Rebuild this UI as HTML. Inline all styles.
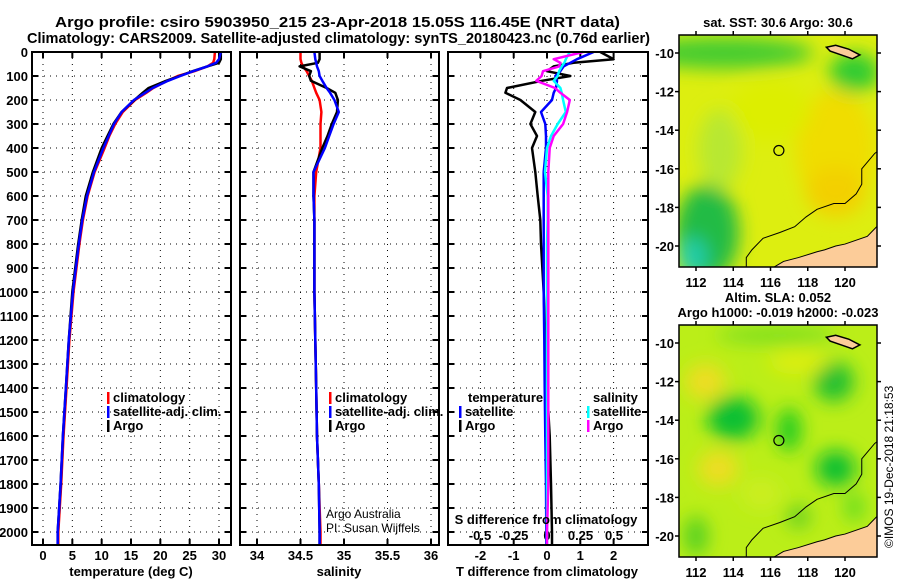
<!DOCTYPE html>
<html><head><meta charset="utf-8"><style>
body{margin:0;background:#fff;}
svg{display:block;font-family:"Liberation Sans",sans-serif;}
.t{font-weight:bold;font-size:13px;fill:#000;}
.h{font-weight:bold;font-size:15px;fill:#000;}
</style></head><body>
<svg id="chart" width="900" height="580" viewBox="0 0 900 580">
<defs>
<filter id="bl" x="-50%" y="-50%" width="200%" height="200%"><feGaussianBlur stdDeviation="9"/></filter>
<clipPath id="c1"><rect x="679" y="35" width="198" height="232"/></clipPath>
<clipPath id="c2"><rect x="679" y="325" width="198" height="232"/></clipPath>
</defs>
<text class="h" x="55" y="27" textLength="565" lengthAdjust="spacingAndGlyphs">Argo profile: csiro 5903950_215 23-Apr-2018 15.05S 116.45E (NRT data)</text>
<text class="h" x="27" y="43" textLength="623" lengthAdjust="spacingAndGlyphs">Climatology: CARS2009. Satellite-adjusted climatology: synTS_20180423.nc (0.76d earlier)</text>
<g id="panels"></g>
<g id="maps"></g>
<text x="893" y="548" font-size="12" transform="rotate(-90 893 548)">©IMOS 19-Dec-2018 21:18:53</text>
</svg>
<script>
// depths (m)
const depths      = [0, 30, 45, 60, 80, 100, 120, 150, 170, 200, 250, 300, 350, 400, 500, 600, 700, 800, 1000, 1200, 1400, 1600, 1800, 2000, 2050];
// temperature (deg C)
const tempArgo    = [30.3, 30.3, 30.0, 28.0, 25.5, 23.3, 21.0, 18.0, 17.0, 15.6, 13.4, 12.0, 11.0, 10.0, 8.5, 7.3, 6.6, 6.0, 5.0, 4.4, 3.9, 3.4, 3.0, 2.5, 2.5];
const tempClim    = [29.3, 29.2, 29.0, 28.0, 25.8, 23.0, 21.2, 18.8, 17.6, 15.7, 13.6, 12.3, 11.3, 10.5, 8.8, 7.6, 6.8, 6.2, 5.2, 4.5, 4.0, 3.5, 3.1, 2.6, 2.6];
const tempSat     = [30.3, 30.0, 29.5, 28.0, 25.6, 23.4, 21.3, 18.7, 17.4, 15.5, 13.4, 12.1, 11.2, 10.3, 8.7, 7.5, 6.7, 6.1, 5.1, 4.4, 3.9, 3.4, 3.0, 2.5, 2.5];
// salinity (PSU)
const salArgo     = [34.72, 34.72, 34.70, 34.49, 34.62, 34.60, 34.62, 34.80, 34.90, 34.93, 34.92, 34.86, 34.81, 34.75, 34.65, 34.65, 34.66, 34.66, 34.66, 34.67, 34.68, 34.69, 34.71, 34.72, 34.72];
const salClim     = [34.50, 34.50, 34.51, 34.53, 34.57, 34.60, 34.63, 34.66, 34.68, 34.72, 34.74, 34.73, 34.73, 34.73, 34.68, 34.66, 34.66, 34.66, 34.66, 34.67, 34.68, 34.69, 34.71, 34.73, 34.73];
const salSat      = [34.66, 34.67, 34.68, 34.69, 34.71, 34.72, 34.75, 34.80, 34.84, 34.89, 34.94, 34.88, 34.83, 34.78, 34.65, 34.65, 34.66, 34.66, 34.66, 34.67, 34.68, 34.69, 34.71, 34.72, 34.72];
// differences from climatology
const tDiffArgo   = [1.6, 2.0, 0.8, 0.2, 0.0, 0.7, -0.15, -1.2, -1.25, -0.8, -0.35, -0.5, -0.3, -0.45, -0.35, -0.28, -0.2, -0.18, -0.1, -0.05, 0.0, 0.08, 0.12, 0.15, 0.15];
const tDiffSat    = [1.4, 0.9, 0.7, 0.5, 0.4, 0.25, 0.3, 0.27, 0.2, 0.15, -0.18, -0.05, -0.03, -0.03, -0.1, -0.1, -0.1, -0.1, -0.1, -0.08, -0.07, -0.05, -0.03, -0.02, -0.02];
const sDiffArgo   = [0.27, 0.05, 0.1, 0.09, -0.03, -0.04, -0.08, 0.06, 0.1, 0.17, 0.15, 0.12, 0.05, 0.02, 0.01, 0.01, 0.01, 0.01, 0.01, 0.01, 0.01, 0.01, 0.01, 0.0, 0.0];
const sDiffSat    = [0.17, 0.14, 0.13, 0.11, 0.09, 0.08, 0.05, 0.1, 0.11, 0.12, 0.14, 0.08, 0.03, 0.0, -0.015, 0.005, 0.005, 0.0, 0.0, 0.0, 0.0, 0.0, 0.0, 0.0, 0.0];
const depthTicks  = [0,100,200,300,400,500,600,700,800,900,1000,1100,1200,1300,1400,1500,1600,1700,1800,1900,2000];
const tempTicks   = [0,5,10,15,20,25,30];
const salTicks    = [34,34.5,35,35.5,36];
const tDiffTicks  = [-2,-1,0,1,2];
const sDiffTicks  = [-0.5,-0.25,0,0.25,0.5];
const lonTicks    = [112,114,116,118,120];
const latTicks    = [-10,-12,-14,-16,-18,-20];
const floatLon = 116.45, floatLat = -15.05;

const NS="http://www.w3.org/2000/svg";
function mk(tag, attrs, parent){const e=document.createElementNS(NS,tag);for(const k in attrs)e.setAttribute(k,attrs[k]);parent.appendChild(e);return e;}
const panels=document.getElementById('panels');
const yTop=52, yBot=545;
const yD=d=>yTop+d*0.24;
function lin(d0,d1,r0,r1){return v=>r0+(v-d0)*(r1-r0)/(d1-d0);}

function panel(name){
  const g=mk('g',{},panels);
  
  
  return g;
}
function frame(g,x0,x1){
  const r=mk('rect',{x:x0,y:yTop,width:x1-x0,height:yBot-yTop,fill:'none',stroke:'#000','stroke-width':2},g);
  
  
}
function hgrid(g,x0,x1){
  depthTicks.forEach(d=>{
    mk('line',{x1:x0,x2:x1,y1:yD(d),y2:yD(d),stroke:'#000','stroke-dasharray':'1 5'},g);
    mk('line',{x1:x0,x2:x0+6,y1:yD(d),y2:yD(d),stroke:'#000','stroke-width':2},g);
    mk('line',{x1:x1-6,x2:x1,y1:yD(d),y2:yD(d),stroke:'#000','stroke-width':2},g);
  });
}
function vgrid(g,vals,sx,lab,y){
  vals.forEach(v=>{
    mk('line',{x1:sx(v),x2:sx(v),y1:yTop,y2:yBot,stroke:'#000','stroke-dasharray':'1 5'},g);
    mk('line',{x1:sx(v),x2:sx(v),y1:yBot-6,y2:yBot,stroke:'#000','stroke-width':2},g);
    mk('line',{x1:sx(v),x2:sx(v),y1:yTop,y2:yTop+6,stroke:'#000','stroke-width':2},g);
    if(lab){const t=mk('text',{x:sx(v),y:y,'text-anchor':'middle',class:'t'},g);t.textContent=v;
      
      }
  });
}
function line(g,xs,sx,color,name,w){
  const p=xs.map((v,i)=>sx(v).toFixed(1)+','+yD(depths[i]).toFixed(1)).join(' ');
  const l=mk('polyline',{points:p,fill:'none',stroke:color,'stroke-width':w||2.5,'stroke-linejoin':'round'},g);
  
  
}
function txt(g,x,y,s,name,extra){const t=mk('text',Object.assign({x:x,y:y,class:'t'},extra||{}),g);t.textContent=s;
  
  return t;}
function legend(g,x,y,items){
  items.forEach((it,i)=>{
    mk('rect',{x:x,y:y+i*14-10,width:2.5,height:12,fill:it[1]},g);
    txt(g,x+6,y+i*14,it[0],'legend-entry');
  });
}

// Panel 1
const g1=panel('temperature-panel');
const sxT=lin(0,30,43,219);
hgrid(g1,32,231);
vgrid(g1,tempTicks,sxT,true,560);
depthTicks.forEach(d=>txt(g1,28,yD(d)+5,String(d),'y-tick-label',{'text-anchor':'end'}));
line(g1,tempClim,sxT,'#f00','temp-climatology-line');
line(g1,tempArgo,sxT,'#000','temp-argo-line');
line(g1,tempSat,sxT,'#00f','temp-satellite-line');
frame(g1,32,231);
legend(g1,107,402,[['climatology','#f00'],['satellite-adj. clim.','#00f'],['Argo','#000']]);
txt(g1,131,576,'temperature (deg C)','x-axis-title',{'text-anchor':'middle'});

// Panel 2
const g2=panel('salinity-panel');
const sxS=lin(34,36,257,431);
hgrid(g2,240,439);
vgrid(g2,salTicks,sxS,true,560);
line(g2,salClim,sxS,'#f00','sal-climatology-line');
line(g2,salArgo,sxS,'#000','sal-argo-line');
line(g2,salSat,sxS,'#00f','sal-satellite-line');
frame(g2,240,439);
legend(g2,329,402,[['climatology','#f00'],['satellite-adj. clim.','#00f'],['Argo','#000']]);
txt(g2,339,576,'salinity','x-axis-title',{'text-anchor':'middle'});
const c1=txt(g2,326,518,'Argo Australia','credit-line',{});c1.setAttribute('class','');c1.setAttribute('font-size','12');
const c2=txt(g2,326,532,'PI: Susan Wijffels','credit-line',{});c2.setAttribute('class','');c2.setAttribute('font-size','12');

// Panel 3
const g3=panel('difference-panel');
const sxD=lin(0,1,547,580.3);
const sxSD=lin(0,0.5,547,614);
hgrid(g3,448,648);
vgrid(g3,tDiffTicks,sxD,true,560);
sDiffTicks.forEach(v=>txt(g3,sxSD(v),540,String(v),'s-tick-label',{'text-anchor':'middle'}));
line(g3,tDiffArgo,sxD,'#000','tdiff-argo-line');
line(g3,tDiffSat,sxD,'#00f','tdiff-satellite-line');
line(g3,sDiffSat,sxSD,'#0ff','sdiff-satellite-line');
line(g3,sDiffArgo,sxSD,'#f0f','sdiff-argo-line');
frame(g3,448,648);
txt(g3,468,402,'temperature','legend-title');
legend(g3,459,416,[['satellite','#00f'],['Argo','#000']]);
txt(g3,593,402,'salinity','legend-title');
legend(g3,587,416,[['satellite','#0ff'],['Argo','#f0f']]);
txt(g3,546,524,'S difference from climatology','s-axis-title',{'text-anchor':'middle'});
txt(g3,547,576,'T difference from climatology','x-axis-title',{'text-anchor':'middle'});

// Maps
const maps=document.getElementById('maps');
const sxL=lin(112,120,696,845);
function mapPanel(y0,name,blobs,base,title1,title2){
  const g=mk('g',{},maps);
  
  
  const syL=lin(-10,-20,y0+18,y0+211);
  const inner=mk('g',{'clip-path':'url(#'+(y0<100?'c1':'c2')+')'},g);
  mk('rect',{x:679,y:y0,width:198,height:232,fill:base},inner);
  const bg=mk('g',{filter:'url(#bl)'},inner);
  blobs.forEach(b=>mk('ellipse',{cx:sxL(b[0]),cy:syL(b[1]),rx:b[2],ry:b[3],fill:b[4]},bg));
  const land=[[121.9,-18.8],[121.2,-19.5],[120,-19.9],[119.5,-20.0],[118.9,-20.2],[118.5,-20.3],[117.5,-20.6],[116.7,-20.8],[116,-21.2],[121.9,-21.2]];
  mk('polygon',{points:land.map(p=>sxL(p[0])+','+syL(p[1])).join(' '),fill:'#fccc99',stroke:'#000','stroke-width':1},inner);
  const isl=[[119,-9.7],[119.5,-9.6],[120.2,-9.8],[120.8,-10.1],[120.4,-10.3],[119.8,-10.1],[119.2,-9.9]];
  mk('polygon',{points:isl.map(p=>sxL(p[0])+','+syL(p[1])).join(' '),fill:'#fccc99',stroke:'#000','stroke-width':1.5},inner);
  const iso=[[121.9,-15.0],[121.6,-15.2],[120.9,-16.0],[120.9,-16.8],[120.6,-17.3],[120,-17.8],[119.4,-17.8],[118.5,-18.1],[117.9,-18.5],[117.3,-19.0],[116.5,-19.3],[115.6,-19.6],[115.0,-20.2],[114.7,-20.6],[114.7,-21.2]];
  mk('polyline',{points:iso.map(p=>sxL(p[0])+','+syL(p[1])).join(' '),fill:'none',stroke:'#000','stroke-width':1},inner);
  const m=mk('circle',{cx:sxL(floatLon),cy:syL(floatLat),r:5,fill:'none',stroke:'#000','stroke-width':1.2},g);
  
  
  mk('rect',{x:679,y:y0,width:198,height:232,fill:'none',stroke:'#000','stroke-width':1.5},g);
  lonTicks.forEach(v=>{mk('line',{x1:sxL(v),x2:sxL(v),y1:y0+232,y2:y0+236,stroke:'#000','stroke-width':1.5},g);
    mk('line',{x1:sxL(v),x2:sxL(v),y1:y0-4,y2:y0,stroke:'#000','stroke-width':1.5},g);
    txt(g,sxL(v),y0+252,String(v),'lon-tick-label',{'text-anchor':'middle'});});
  latTicks.forEach(v=>{mk('line',{x1:675,x2:679,y1:syL(v),y2:syL(v),stroke:'#000','stroke-width':1.5},g);
    mk('line',{x1:877,x2:881,y1:syL(v),y2:syL(v),stroke:'#000','stroke-width':1.5},g);
    txt(g,674,syL(v)+5,String(v),'lat-tick-label',{'text-anchor':'end'});});
  if(title2){txt(g,778,y0-23,title1,'map-title',{'text-anchor':'middle'});txt(g,778,y0-8,title2,'map-subtitle',{'text-anchor':'middle'});}
  else txt(g,778,y0-8,title1,'map-title',{'text-anchor':'middle'});
}
mapPanel(35,'sst-map',[
 [113.5,-10,90,16,'#44cc33'],[112.6,-19.3,32,48,'#22bb44'],[111.8,-20.6,15,20,'#22ccaa'],[120.5,-11,25,20,'#33cc33'],
 [119.5,-15,40,60,'#f0dd00'],[119.5,-17.2,30,25,'#f3d000'],[113.3,-15,22,40,'#b8e830'],[116,-13,40,30,'#ddee00']
],'#ddee10','sat. SST: 30.6 Argo: 30.6',null);
mapPanel(325,'sla-map',[
 [114,-13.9,26,22,'#11c030'],[119.4,-12,20,20,'#22c030'],[117,-14.5,12,22,'#22cc22'],[119.5,-16.5,20,18,'#11c030'],
 [112.5,-12,20,18,'#eedd22'],[113.2,-16.5,20,18,'#eedd22'],[117.5,-11,30,12,'#ddee10'],[116.3,-9.6,60,8,'#77dd22'],
 [117.5,-19,12,12,'#66d022'],[112,-20,12,20,'#55d020'],[120.5,-18.5,10,15,'#66dd22'],[115.5,-17.8,20,15,'#ccee22']
],'#bbee18','Altim. SLA: 0.052','Argo h1000: -0.019 h2000: -0.023');
</script>
</body></html>
